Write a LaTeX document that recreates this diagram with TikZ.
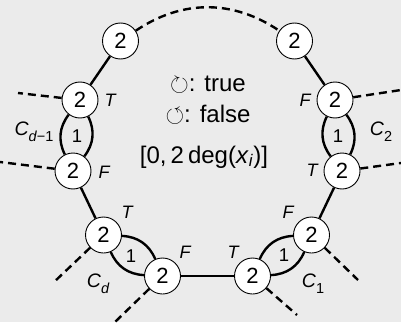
\documentclass[tikz,border=0pt]{standalone}
\usepackage{fontspec}
\usepackage{amssymb}
\setmainfont{Liberation Sans}
\definecolor{bgcol}{RGB}{235,235,235}
% lowered subscript for the clause names
\newcommand\clsub[1]{\raisebox{-0.3em}{\fontsize{14.5}{14.5}\selectfont #1}}
\begin{document}
\begin{tikzpicture}[x=1pt,y=1pt,
  vtx/.style={circle,draw,fill=white,line width=0.9pt,minimum size=36pt,
    inner sep=0pt,font=\fontsize{22}{22}\selectfont},
  one/.style={inner sep=0pt,font=\fontsize{18.5}{18.5}\selectfont},
  lbl/.style={inner sep=0pt,font=\fontsize{18}{18}\selectfont\itshape},
  cname/.style={inner sep=0pt,font=\fontsize{19.5}{19.5}\selectfont\itshape},
  ctext/.style={inner sep=0pt,font=\fontsize{24}{24}\selectfont},
  edge/.style={line width=2.4pt},
  stub/.style={line width=2.4pt,dash pattern=on 8pt off 5pt}]
\fill[bgcol] (0,0) rectangle (401,322);
\useasboundingbox (0,0) rectangle (401,322);

% the ten degree-2 vertices
\node[vtx] (t1) at (120.5,281) {2};
\node[vtx] (t2) at (294.5,281) {2};
\node[vtx] (u1) at (80,222) {2};
\node[vtx] (u2) at (335,222) {2};
\node[vtx] (l1) at (73,151) {2};
\node[vtx] (l2) at (342,151) {2};
\node[vtx] (b1) at (103.5,87) {2};
\node[vtx] (b2) at (311.5,87) {2};
\node[vtx] (c1) at (162.5,46) {2};
\node[vtx] (c2) at (252.5,46) {2};

% weight-1 labels inside the double edges
\node[one] (w1) at (77,186) {1};
\node[one] (w2) at (338,186) {1};
\node[one] (w3) at (131,66) {1};
\node[one] (w4) at (284,67) {1};

% free ends of the dashed stubs
\coordinate (eu1) at (18,229);
\coordinate (el1) at (0,160);
\coordinate (eu2) at (401,232);
\coordinate (el2) at (401,159);
\coordinate (eb1) at (53,39);
\coordinate (ec1) at (115,0);
\coordinate (eb2) at (358,42);
\coordinate (ec2) at (297,7);

% single solid edges
\draw[edge] (t1) -- (u1);
\draw[edge] (t2) -- (u2);
\draw[edge] (l1) -- (b1);
\draw[edge] (l2) -- (b2);
\draw[edge] (c1) -- (c2);

% double edges of the clause gadgets
\draw[edge] (u1) to[bend left=32] (l1);
\draw[edge] (u1) to[bend right=32] (l1);
\draw[edge] (u2) to[bend left=32] (l2);
\draw[edge] (u2) to[bend right=32] (l2);
\draw[edge] (b1) to[bend left=32] (c1);
\draw[edge] (b1) to[bend right=32] (c1);
\draw[edge] (b2) to[bend left=32] (c2);
\draw[edge] (b2) to[bend right=32] (c2);

% dashed continuations
\draw[stub] (t1) to[bend left=34] (t2);
\draw[stub] (u1) -- (eu1);
\draw[stub] (l1) -- (el1);
\draw[stub] (u2) -- (eu2);
\draw[stub] (l2) -- (el2);
\draw[stub] (b1) -- (eb1);
\draw[stub] (c1) -- (ec1);
\draw[stub] (b2) -- (eb2);
\draw[stub] (c2) -- (ec2);

% truth labels
\node[lbl] (lu1) at (110,222) {T};
\node[lbl] (ll1) at (104,150) {F};
\node[lbl] (lu2) at (305,222) {F};
\node[lbl] (ll2) at (312,152) {T};
\node[lbl] (lb1) at (127,110) {T};
\node[lbl] (lc1) at (185,70) {F};
\node[lbl] (lb2) at (288,110) {F};
\node[lbl] (lc2) at (233,70) {T};

% clause names
\node[cname] (cdm) at (34,190) {C\clsub{d\upshape −1}};
\node[cname] (ctwo) at (381,190) {C\clsub{\upshape 2}};
\node[cname] (cd) at (98,38) {C\clsub{d}};
\node[cname] (cone) at (313,38) {C\clsub{\upshape 1}};

% legend in the middle
\node[ctext] (ltrue) at (208,237) {$\circlearrowright$: true};
\node[ctext] (lfalse) at (208,207) {$\circlearrowleft$: false};
\node[ctext] (lrange) at (204,165) {[0,\,2\,deg(\textit{x}\textsubscript{\textit{i}})]};
\end{tikzpicture}
\end{document}
